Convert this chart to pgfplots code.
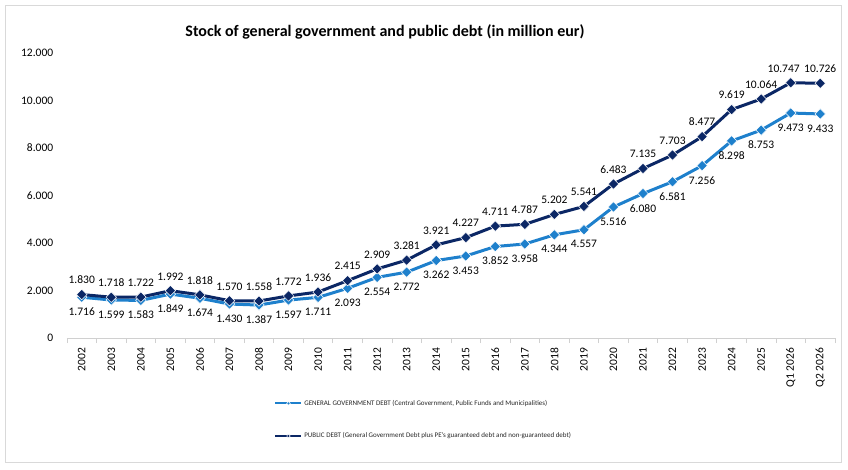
\documentclass[border=0pt]{standalone}
\usepackage{fontspec}
\setmainfont{Carlito}
\usepackage{pgfplots}
\usepackage{pgfplotstable}
\pgfplotsset{compat=1.18}
\definecolor{navy}{HTML}{0B2765}
\definecolor{lblue}{HTML}{1E80CC}
\definecolor{framegray}{HTML}{D9D9D9}
\definecolor{axgray}{HTML}{D0D0D0}
\pgfplotstableread{
x y dx
0 1716 0
1 1599 0
2 1583 0
3 1849 0
4 1674 0
5 1430 0
6 1387 0
7 1597 0
8 1711 0
9 2093 0
10 2554 0
11 2772 0
12 3262 0
13 3453 0
14 3852 0
15 3958 0
16 4344 0
17 4557 0
18 5516 0
19 6080 0
20 6581 0
21 7256 0
22 8298 0
23 8753 0
24 9473 0
25 9433 0
}\gendebt
\pgfplotstableread{
x y dx
0 1830 0
1 1718 0
2 1722 0
3 1992 0
4 1818 0
5 1570 0
6 1558 0
7 1772 0
8 1936 0
9 2415 0
10 2909 0
11 3281 0
12 3921 0
13 4227 0
14 4711 0
15 4787 0
16 5202 0
17 5541 0
18 6483 0
19 7135 0
20 7703 0
21 8477 0
22 9619 0
23 10064 0
24 10747 -7
25 10726 0
}\pubdebt
\begin{document}
\begin{tikzpicture}[x=1pt,y=1pt]
\useasboundingbox (0,0) rectangle (848,469);
\draw[framegray, line width=0.8pt] (5,7) rectangle (841,464);
\node[font=\fontsize{16}{18}\selectfont\bfseries] at (385,437) {Stock of general government and public debt (in million eur)};
\begin{axis}[
  at={(67pt,131pt)}, anchor=south west,
  scale only axis, width=768pt, height=285pt,
  xmin=-0.5, xmax=25.5, ymin=0, ymax=12000,
  clip=false,
  axis x line*=bottom, axis y line*=left,
  y axis line style={draw=none},
  x axis line style={draw=axgray, line width=0.8pt},
  ytick={0,2000,...,12000},
  ytick style={draw=none},
  scaled y ticks=false,
  /pgf/number format/.cd, 1000 sep={.}, assume math mode=true, /pgfplots/.cd,
  xtick={0,...,25},
  xticklabels={2002,2003,2004,2005,2006,2007,2008,2009,2010,2011,2012,2013,2014,2015,2016,2017,2018,2019,2020,2021,2022,2023,2024,2025,Q1 2026,Q2 2026},
  major x tick style={draw=none},
  minor xtick={-0.5,0.5,...,25.5},
  minor x tick style={draw=axgray, line width=0.8pt},
  minor tick length=5pt,
  tick align=outside,
  xticklabel style={rotate=90, anchor=east, font=\fontsize{11.5}{13}\selectfont, xshift=-2pt},
  yticklabel style={font=\fontsize{11.5}{13}\selectfont, xshift=-6pt},
  visualization depends on={\thisrow{dx} \as \dx},
  every node near coord/.append style={font=\fontsize{11.5}{13}\selectfont, text=black, xshift=\dx pt},
  nodes near coords={\pgfmathprintnumber[fixed,precision=0,1000 sep={.}]{\pgfplotspointmeta}},
  legend style={at={(0.27,-0.21)}, anchor=north west, draw=none, fill=none,
    font=\fontsize{7}{8}\selectfont, row sep=22pt, inner sep=0pt, text=black!85},
  legend cell align=left,
  legend image code/.code={\draw[#1,mark=none,line width=1.8pt] (0pt,0pt)--(26pt,0pt);
    \draw[#1,mark size=1.3pt,line width=0.3pt] plot coordinates {(13pt,0pt)};},
]
\addplot[color=lblue, line width=3pt, mark=square*, mark size=3.7pt,
  mark options={fill=lblue, draw=white, line width=0.5pt, rotate=45},
  nodes near coords align={below}, every node near coord/.append style={yshift=-7pt}]
table[x=x, y=y] {\gendebt};
\addlegendentry{GENERAL GOVERNMENT DEBT (Central Government, Public Funds and Municipalities)}
\addplot[color=navy, line width=3pt, mark=square*, mark size=3.7pt,
  mark options={fill=navy, draw=white, line width=0.5pt, rotate=45},
  nodes near coords align={above}, every node near coord/.append style={yshift=7pt}]
table[x=x, y=y] {\pubdebt};
\addlegendentry{PUBLIC DEBT (General Government Debt plus PE's guaranteed debt and non-guaranteed debt)}
\end{axis}
\end{tikzpicture}
\end{document}
